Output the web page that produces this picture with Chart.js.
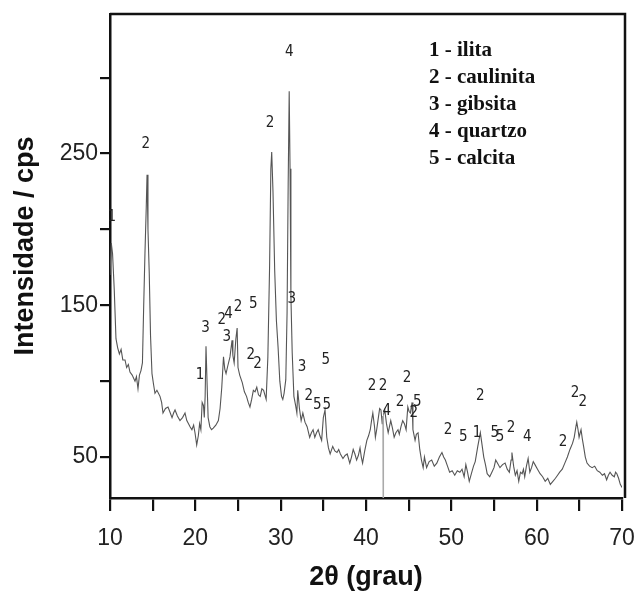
<!DOCTYPE html>
<html>
<head>
<meta charset="utf-8">
<script src="https://cdn.jsdelivr.net/npm/chart.js@4.4.1/dist/chart.umd.min.js"></script>
<style>
  html, body { margin: 0; padding: 0; background: #fff; }
  #wrap { width: 637px; height: 596px; }
</style>
</head>
<body>
<div id="wrap"><canvas id="chartDRX" width="637" height="596"></canvas></div>
<script>
// difratograma: 2theta (grau) x intensidade (cps)
const twoTheta = [
  10.0, 10.15, 10.3, 10.5, 10.7, 10.9, 11.1, 11.3, 11.5, 11.76, 11.95, 12.15, 12.34, 12.6, 12.93, 13.1, 13.28, 13.45, 13.63, 13.8,
  13.95, 14.1, 14.25, 14.34, 14.45, 14.6, 14.75, 14.92, 15.1, 15.27, 15.5, 15.86, 16.05, 16.21, 16.5, 16.8, 17.0, 17.27, 17.45, 17.62,
  17.9, 18.2, 18.5, 18.79, 19.0, 19.2, 19.38, 19.6, 19.8, 19.96, 20.16, 20.35, 20.5, 20.65, 20.8, 20.95, 21.05, 21.15, 21.25, 21.38,
  21.5, 21.7, 21.9, 22.1, 22.4, 22.7, 22.9, 23.1, 23.3, 23.45, 23.6, 23.8, 24.06, 24.3, 24.4, 24.55, 24.75, 24.9, 25.0, 25.2,
  25.5, 25.75, 26.0, 26.2, 26.4, 26.6, 26.8, 27.0, 27.2, 27.4, 27.6, 27.8, 28.0, 28.2, 28.3, 28.5, 28.7, 28.85, 28.95, 29.1,
  29.3, 29.5, 29.7, 29.9, 30.1, 30.25, 30.4, 30.6, 30.75, 30.88, 31.0, 31.1, 31.2, 31.35, 31.55, 31.75, 31.9, 32.0, 32.2, 32.4,
  32.6, 32.85, 33.1, 33.4, 33.6, 33.8, 34.0, 34.2, 34.4, 34.6, 34.8, 35.0, 35.2, 35.4, 35.6, 35.8, 36.1, 36.35, 36.6, 36.8,
  37.0, 37.3, 37.55, 37.8, 38.1, 38.3, 38.5, 38.7, 38.9, 39.1, 39.3, 39.45, 39.6, 39.85, 40.1, 40.3, 40.5, 40.65, 40.8, 41.0,
  41.1, 41.25, 41.4, 41.6, 41.75, 41.9, 41.97, 42.0, 42.05, 42.2, 42.4, 42.6, 42.75, 42.9, 43.1, 43.3, 43.5, 43.75, 43.9, 44.1,
  44.3, 44.5, 44.7, 44.9, 45.05, 45.2, 45.4, 45.5, 45.75, 45.9, 46.1, 46.3, 46.5, 46.7, 46.85, 47.1, 47.4, 47.7, 48.0, 48.3,
  48.6, 48.9, 49.1, 49.3, 49.55, 49.8, 50.1, 50.4, 50.7, 51.0, 51.25, 51.5, 51.7, 51.9, 52.1, 52.4, 52.6, 52.8, 53.1, 53.4,
  53.6, 53.8, 54.0, 54.2, 54.5, 54.75, 55.0, 55.2, 55.4, 55.7, 56.0, 56.3, 56.55, 56.8, 57.0, 57.1, 57.3, 57.5, 57.7, 57.9,
  58.1, 58.3, 58.45, 58.6, 58.8, 59.0, 59.2, 59.4, 59.6, 59.8, 60.1, 60.4, 60.7, 61.0, 61.3, 61.6, 61.9, 62.2, 62.45, 62.7,
  63.0, 63.3, 63.6, 63.9, 64.2, 64.4, 64.6, 64.7, 64.85, 64.97, 65.1, 65.2, 65.35, 65.5, 65.7, 65.9, 66.2, 66.5, 66.8, 67.1,
  67.4, 67.7, 67.95, 68.2, 68.4, 68.6, 68.85, 69.1, 69.25, 69.4, 69.6, 69.8, 70.0
];
const intensidade = [
  170, 191, 184, 160, 128, 122, 118, 121, 114, 114, 109, 111, 106, 104, 100, 103, 95, 104, 107, 112,
  150, 185, 215, 236, 200, 171, 130, 105, 98, 92, 94, 90, 86, 79, 82, 83, 80, 76, 79, 81,
  77, 74, 76, 79, 74, 72, 70, 68, 71, 66, 58, 64, 72, 68, 86, 84, 76, 90, 123, 98,
  76, 70, 68, 69, 71, 74, 82, 96, 116, 108, 105, 110, 116, 127, 117, 112, 128, 135, 109, 104,
  99, 93, 90, 86, 83, 88, 94, 93, 96, 91, 90, 95, 94, 90, 88, 116, 175, 240, 251, 225,
  173, 140, 122, 100, 90, 88, 92, 101, 145, 230, 291, 240, 156, 119, 90, 84, 79, 94, 82, 74,
  79, 73, 70, 63, 66, 68, 63, 66, 68, 64, 61, 76, 81, 63, 56, 52, 57, 54, 53, 55,
  52, 49, 51, 52, 46, 50, 55, 52, 48, 51, 56, 50, 46, 54, 61, 64, 68, 74, 79, 70,
  63, 68, 74, 82, 81, 72, 77, 23, 78, 81, 72, 66, 70, 74, 69, 63, 66, 68, 65, 70,
  74, 72, 68, 83, 80, 79, 86, 68, 61, 65, 66, 55, 48, 43, 50, 43, 47, 48, 44, 46,
  50, 53, 50, 48, 44, 40, 41, 38, 41, 40, 42, 37, 45, 40, 34, 40, 44, 47, 57, 66,
  58, 50, 45, 39, 37, 40, 43, 48, 46, 43, 45, 46, 42, 40, 48, 53, 44, 38, 41, 34,
  40, 39, 42, 37, 44, 49, 40, 43, 47, 45, 42, 39, 37, 34, 36, 32, 34, 36, 38, 40,
  42, 46, 50, 55, 59, 63, 70, 73, 68, 63, 66, 68, 62, 57, 50, 46, 44, 43, 44, 41,
  40, 38, 39, 35, 38, 40, 38, 37, 40, 39, 36, 32, 30
];

// identificacao dos picos (posicao em 2theta / cps)
const picoX = [10.2, 14.2, 28.75, 31.0, 31.3, 20.55, 21.2, 23.1, 23.9, 25.0, 23.7, 26.8, 26.5, 27.3, 32.5, 33.3, 34.3, 35.3, 35.4,
  40.7, 42.0, 42.45, 44.0, 44.8, 46.0, 45.6, 49.6, 51.4, 53.0, 53.4, 55.1, 55.7, 57.0, 58.9, 63.1, 64.5, 65.4];
const picoY = [208, 256, 270, 317, 154, 104, 135, 140, 144, 149, 129, 151, 117, 111, 109, 90, 84, 114, 84,
  97, 97, 80, 86, 102, 86, 79, 68, 63, 66, 90, 66, 63, 69, 63, 60, 92, 86];
const picoTxt = ['1', '2', '2', '4', '3', '1', '3', '2', '4', '2', '3', '5', '2', '2', '3', '2', '5', '5', '5',
  '2', '2', '4', '2', '2', '5', '2', '2', '5', '1', '2', '5', '5', '2', '4', '2', '2', '2'];

const legendaFases = ['1 - ilita', '2 - caulinita', '3 - gibsita', '4 - quartzo', '5 - calcita'];

const xTicks = [10, 15, 20, 25, 30, 35, 40, 45, 50, 55, 60, 65, 70];
const yTicks = [50, 100, 150, 200, 250, 300];
const xLabels = [10, 20, 30, 40, 50, 60, 70];
const yLabels = [50, 150, 250];

const pontos = twoTheta.map((x, i) => ({ x, y: intensidade[i] }));

const textos = {
  id: 'textos',
  afterDraw(chart) {
    const { ctx, chartArea, scales } = chart;
    ctx.save();
    // moldura superior e direita
    ctx.strokeStyle = '#111';
    ctx.lineWidth = 2.5;
    ctx.beginPath();
    ctx.moveTo(chartArea.left, chartArea.top);
    ctx.lineTo(chartArea.right + 3, chartArea.top);
    ctx.lineTo(chartArea.right + 3, chartArea.bottom);
    ctx.stroke();

    // rotulos dos picos
    ctx.fillStyle = '#222';
    ctx.font = '15px "Liberation Sans Narrow", "DejaVu Sans Condensed", "Liberation Sans", sans-serif';
    ctx.textAlign = 'center';
    ctx.textBaseline = 'middle';
    picoX.forEach((x, i) => {
      ctx.fillText(picoTxt[i], scales.x.getPixelForValue(x), scales.y.getPixelForValue(picoY[i]));
    });

    // legenda das fases
    ctx.fillStyle = '#111';
    ctx.font = 'bold 21px "Liberation Serif", "Times New Roman", serif';
    ctx.textAlign = 'left';
    legendaFases.forEach((t, i) => {
      ctx.fillText(t, 429, 51 + i * 27);
    });

    // titulos dos eixos
    ctx.font = 'bold 27px "Liberation Sans", Arial, sans-serif';
    ctx.textAlign = 'center';
    ctx.fillText('2θ (grau)', 366, 578);
    ctx.translate(26, 246);
    ctx.rotate(-Math.PI / 2);
    ctx.fillText('Intensidade / cps', 0, 0);
    ctx.restore();
  }
};

new Chart(document.getElementById('chartDRX'), {
  type: 'line',
  data: {
    datasets: [{
      data: pontos,
      borderColor: '#555',
      borderWidth: 1.1,
      pointRadius: 0,
      tension: 0,
      fill: false,
      segment: {
        // traco fino e claro do ponto espurio em 42 graus
        borderColor: c => (c.p0.parsed.y === 23 || c.p1.parsed.y === 23) ? '#aaa' : undefined
      }
    }]
  },
  options: {
    responsive: false,
    animation: false,
    layout: { padding: { top: 14, right: 15, left: 0, bottom: 0 } },
    plugins: { legend: { display: false }, tooltip: { enabled: false } },
    scales: {
      x: {
        type: 'linear',
        min: 10,
        max: 70,
        afterBuildTicks: s => { s.ticks = xTicks.map(v => ({ value: v })); },
        afterFit: s => { s.height = 98; s.paddingLeft = 0; s.paddingRight = 0; },
        ticks: {
          autoSkip: false,
          maxRotation: 0,
          padding: 14,
          color: '#222',
          font: { family: '"Liberation Sans", Arial, sans-serif', size: 23 },
          callback: v => xLabels.includes(v) ? String(v) : ''
        },
        grid: { drawOnChartArea: false, drawTicks: true, tickLength: 13, color: '#111', lineWidth: 2.2 },
        border: { color: '#111', width: 2.5 }
      },
      y: {
        min: 23,
        max: 342,
        afterBuildTicks: s => { s.ticks = yTicks.map(v => ({ value: v })); },
        afterFit: s => { s.width = 110; s.paddingTop = 0; s.paddingBottom = 0; },
        ticks: {
          autoSkip: false,
          padding: 2,
          color: '#222',
          font: { family: '"Liberation Sans", Arial, sans-serif', size: 23 },
          callback: v => yLabels.includes(v) ? String(v) : ''
        },
        grid: { drawOnChartArea: false, drawTicks: true, tickLength: 10, color: '#111', lineWidth: 2.2 },
        border: { color: '#111', width: 2.5 }
      }
    }
  },
  plugins: [textos]
});
</script>
</body>
</html>
